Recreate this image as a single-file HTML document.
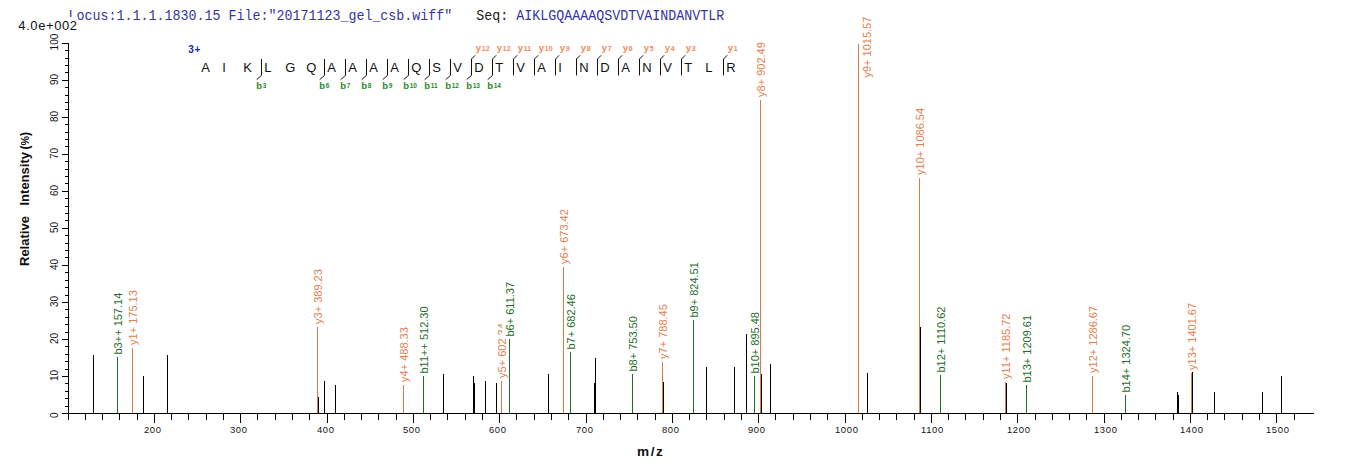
<!DOCTYPE html><html><head><meta charset="utf-8"><style>html,body{margin:0;padding:0;background:#fff;overflow:hidden}svg{display:block}text{font-family:"Liberation Sans",sans-serif}</style></head><body>
<svg width="1362" height="473" viewBox="0 0 1362 473">
<rect x="0" y="0" width="1362" height="473" fill="#fff"/>
<text transform="translate(0,19.6) scale(1,1.13) translate(0,-19.6)" x="68.5" y="19.6" style="font-family:Liberation Mono,monospace" font-size="13.33" fill="#3434A4" xml:space="preserve">Locus:1.1.1.1830.15 File:"20171123_gel_csb.wiff"   <tspan fill="#222">Seq:</tspan> AIKLGQAAAAQSVDTVAINDANVTLR</text>
<rect x="16" y="17" width="62" height="14" fill="#fff"/>
<text x="18.3" y="29.9" font-size="13" fill="#111" letter-spacing="0.6">4.0e+002</text>
<path d="M68.5 43 V414" stroke="#000" stroke-width="1" fill="none"/>
<path d="M62 413.5 H1314" stroke="#000" stroke-width="1" fill="none"/>
<path d="M62 413.50 H68.5 M65 406.50 H68.5 M65 398.50 H68.5 M65 391.50 H68.5 M65 383.50 H68.5 M62 376.50 H68.5 M65 369.50 H68.5 M65 361.50 H68.5 M65 354.50 H68.5 M65 346.50 H68.5 M62 339.50 H68.5 M65 332.50 H68.5 M65 324.50 H68.5 M65 317.50 H68.5 M65 309.50 H68.5 M62 302.50 H68.5 M65 295.50 H68.5 M65 287.50 H68.5 M65 280.50 H68.5 M65 272.50 H68.5 M62 265.50 H68.5 M65 257.50 H68.5 M65 250.50 H68.5 M65 243.50 H68.5 M65 235.50 H68.5 M62 228.50 H68.5 M65 220.50 H68.5 M65 213.50 H68.5 M65 206.50 H68.5 M65 198.50 H68.5 M62 191.50 H68.5 M65 183.50 H68.5 M65 176.50 H68.5 M65 169.50 H68.5 M65 161.50 H68.5 M62 154.50 H68.5 M65 146.50 H68.5 M65 139.50 H68.5 M65 132.50 H68.5 M65 124.50 H68.5 M62 117.50 H68.5 M65 109.50 H68.5 M65 102.50 H68.5 M65 95.50 H68.5 M65 87.50 H68.5 M62 80.50 H68.5 M65 72.50 H68.5 M65 65.50 H68.5 M65 58.50 H68.5 M65 50.50 H68.5 M62 43.50 H68.5" stroke="#000" stroke-width="1" fill="none"/>
<text transform="translate(57.8,418.10) rotate(-90)" font-size="10" fill="#111">0</text>
<text transform="translate(57.8,381.10) rotate(-90)" font-size="10" fill="#111">10</text>
<text transform="translate(57.8,344.10) rotate(-90)" font-size="10" fill="#111">20</text>
<text transform="translate(57.8,307.10) rotate(-90)" font-size="10" fill="#111">30</text>
<text transform="translate(57.8,270.10) rotate(-90)" font-size="10" fill="#111">40</text>
<text transform="translate(57.8,233.10) rotate(-90)" font-size="10" fill="#111">50</text>
<text transform="translate(57.8,196.10) rotate(-90)" font-size="10" fill="#111">60</text>
<text transform="translate(57.8,159.10) rotate(-90)" font-size="10" fill="#111">70</text>
<text transform="translate(57.8,122.10) rotate(-90)" font-size="10" fill="#111">80</text>
<text transform="translate(57.8,85.10) rotate(-90)" font-size="10" fill="#111">90</text>
<text transform="translate(57.8,50.40) rotate(-90)" font-size="10" fill="#111">100</text>
<path d="M68.50 413 V420 M85.50 413 V420 M102.50 413 V420 M119.50 413 V420 M137.50 413 V420 M154.50 413 V423 M171.50 413 V420 M188.50 413 V420 M206.50 413 V420 M223.50 413 V420 M240.50 413 V423 M257.50 413 V420 M275.50 413 V420 M292.50 413 V420 M309.50 413 V420 M327.50 413 V423 M344.50 413 V420 M361.50 413 V420 M378.50 413 V420 M396.50 413 V420 M413.50 413 V423 M430.50 413 V420 M447.50 413 V420 M465.50 413 V420 M482.50 413 V420 M499.50 413 V423 M516.50 413 V420 M534.50 413 V420 M551.50 413 V420 M568.50 413 V420 M586.50 413 V423 M603.50 413 V420 M620.50 413 V420 M637.50 413 V420 M655.50 413 V420 M672.50 413 V423 M689.50 413 V420 M706.50 413 V420 M724.50 413 V420 M741.50 413 V420 M758.50 413 V423 M775.50 413 V420 M793.50 413 V420 M810.50 413 V420 M827.50 413 V420 M845.50 413 V423 M862.50 413 V420 M879.50 413 V420 M896.50 413 V420 M914.50 413 V420 M931.50 413 V423 M948.50 413 V420 M965.50 413 V420 M983.50 413 V420 M1000.50 413 V420 M1017.50 413 V423 M1035.50 413 V420 M1052.50 413 V420 M1069.50 413 V420 M1086.50 413 V420 M1104.50 413 V423 M1121.50 413 V420 M1138.50 413 V420 M1155.50 413 V420 M1173.50 413 V420 M1190.50 413 V423 M1207.50 413 V420 M1224.50 413 V420 M1242.50 413 V420 M1259.50 413 V420 M1276.50 413 V423 M1294.50 413 V420" stroke="#000" stroke-width="1" fill="none"/>
<text x="143.90" y="432.7" font-size="9.4" letter-spacing="0.75" fill="#111">200</text>
<text x="229.90" y="432.7" font-size="9.4" letter-spacing="0.75" fill="#111">300</text>
<text x="316.90" y="432.7" font-size="9.4" letter-spacing="0.75" fill="#111">400</text>
<text x="402.90" y="432.7" font-size="9.4" letter-spacing="0.75" fill="#111">500</text>
<text x="488.90" y="432.7" font-size="9.4" letter-spacing="0.75" fill="#111">600</text>
<text x="575.90" y="432.7" font-size="9.4" letter-spacing="0.75" fill="#111">700</text>
<text x="661.90" y="432.7" font-size="9.4" letter-spacing="0.75" fill="#111">800</text>
<text x="747.90" y="432.7" font-size="9.4" letter-spacing="0.75" fill="#111">900</text>
<text x="834.90" y="432.7" font-size="9.4" letter-spacing="0.75" fill="#111">1000</text>
<text x="920.90" y="432.7" font-size="9.4" letter-spacing="0.75" fill="#111">1100</text>
<text x="1006.90" y="432.7" font-size="9.4" letter-spacing="0.75" fill="#111">1200</text>
<text x="1093.90" y="432.7" font-size="9.4" letter-spacing="0.75" fill="#111">1300</text>
<text x="1179.90" y="432.7" font-size="9.4" letter-spacing="0.75" fill="#111">1400</text>
<text x="1265.90" y="432.7" font-size="9.4" letter-spacing="0.75" fill="#111">1500</text>
<text transform="translate(29,266) rotate(-90)" font-size="13" font-weight="bold" fill="#111">Relative</text>
<text transform="translate(29,205.5) rotate(-90)" font-size="13" font-weight="bold" fill="#111">Intensity</text>
<text transform="translate(29,149.6) rotate(-90)" font-size="13" font-weight="bold" fill="#111" textLength="17.6" lengthAdjust="spacingAndGlyphs">(<tspan font-size="11.5">%</tspan>)</text>
<text x="637.1" y="455.7" font-size="13.6" font-weight="bold" fill="#111" letter-spacing="1.5">m/z</text>
<path d="M1125.50 395 V413" stroke="#1E6E28" stroke-width="1" fill="none"/>
<rect x="1118.20" y="324.90" width="13.8" height="69.60" fill="#fff"/>
<text transform="translate(1129.50,392.50) rotate(-90)" font-size="11" fill="#1E6E28">b14+ 1324.70</text>
<path d="M403.50 385 V413" stroke="#DC7A48" stroke-width="1" fill="none"/>
<rect x="396.20" y="325.40" width="13.8" height="58.50" fill="#fff"/>
<text transform="translate(407.50,381.90) rotate(-90)" font-size="11" fill="#E0804E">y4+ 488.33</text>
<path d="M1026.50 385 V413" stroke="#1E6E28" stroke-width="1" fill="none"/>
<rect x="1019.20" y="314.90" width="13.8" height="69.60" fill="#fff"/>
<text transform="translate(1030.50,382.50) rotate(-90)" font-size="11" fill="#1E6E28">b13+ 1209.61</text>
<path d="M1005.50 382 V413" stroke="#DC7A48" stroke-width="1" fill="none"/>
<rect x="998.20" y="311.30" width="13.8" height="69.60" fill="#fff"/>
<text transform="translate(1009.50,378.90) rotate(-90)" font-size="11" fill="#E0804E">y11+ 1185.72</text>
<path d="M501.50 381 V413" stroke="#DC7A48" stroke-width="1" fill="none"/>
<rect x="494.20" y="321.40" width="13.8" height="58.50" fill="#fff"/>
<text transform="translate(505.50,377.90) rotate(-90)" font-size="11" fill="#E0804E">y5+ 602.34</text>
<path d="M423.50 376 V413" stroke="#1E6E28" stroke-width="1" fill="none"/>
<rect x="416.20" y="305.90" width="13.8" height="69.60" fill="#fff"/>
<text transform="translate(427.50,373.50) rotate(-90)" font-size="11" fill="#1E6E28">b11++ 512.30</text>
<path d="M754.50 376 V413" stroke="#1E6E28" stroke-width="1" fill="none"/>
<rect x="747.20" y="311.45" width="13.8" height="64.05" fill="#fff"/>
<text transform="translate(758.50,373.50) rotate(-90)" font-size="11" fill="#1E6E28">b10+ 895.48</text>
<path d="M1092.50 376 V413" stroke="#DC7A48" stroke-width="1" fill="none"/>
<rect x="1085.20" y="305.30" width="13.8" height="69.60" fill="#fff"/>
<text transform="translate(1096.50,372.90) rotate(-90)" font-size="11" fill="#E0804E">y12+ 1286.67</text>
<path d="M940.50 375 V413" stroke="#1E6E28" stroke-width="1" fill="none"/>
<rect x="933.20" y="304.90" width="13.8" height="69.60" fill="#fff"/>
<text transform="translate(944.50,372.50) rotate(-90)" font-size="11" fill="#1E6E28">b12+ 1110.62</text>
<path d="M632.50 374 V413" stroke="#1E6E28" stroke-width="1" fill="none"/>
<rect x="625.20" y="315.00" width="13.8" height="58.50" fill="#fff"/>
<text transform="translate(636.50,371.50) rotate(-90)" font-size="11" fill="#1E6E28">b8+ 753.50</text>
<path d="M1191.50 373 V413" stroke="#DC7A48" stroke-width="1" fill="none"/>
<rect x="1184.20" y="302.30" width="13.8" height="69.60" fill="#fff"/>
<text transform="translate(1195.50,369.90) rotate(-90)" font-size="11" fill="#E0804E">y13+ 1401.67</text>
<path d="M662.50 362 V413" stroke="#DC7A48" stroke-width="1" fill="none"/>
<rect x="655.20" y="302.40" width="13.8" height="58.50" fill="#fff"/>
<text transform="translate(666.50,358.90) rotate(-90)" font-size="11" fill="#E0804E">y7+ 788.45</text>
<path d="M117.50 357 V413" stroke="#1E6E28" stroke-width="1" fill="none"/>
<rect x="110.20" y="292.45" width="13.8" height="64.05" fill="#fff"/>
<text transform="translate(121.50,354.50) rotate(-90)" font-size="11" fill="#1E6E28">b3++ 157.14</text>
<path d="M570.50 352 V413" stroke="#1E6E28" stroke-width="1" fill="none"/>
<rect x="563.20" y="293.00" width="13.8" height="58.50" fill="#fff"/>
<text transform="translate(574.50,349.50) rotate(-90)" font-size="11" fill="#1E6E28">b7+ 682.46</text>
<path d="M132.50 348 V413" stroke="#DC7A48" stroke-width="1" fill="none"/>
<rect x="125.20" y="288.40" width="13.8" height="58.50" fill="#fff"/>
<text transform="translate(136.50,344.90) rotate(-90)" font-size="11" fill="#E0804E">y1+ 175.13</text>
<path d="M509.50 339 V413" stroke="#1E6E28" stroke-width="1" fill="none"/>
<rect x="502.20" y="280.00" width="13.8" height="58.50" fill="#fff"/>
<text transform="translate(513.50,336.50) rotate(-90)" font-size="11" fill="#1E6E28">b6+ 611.37</text>
<path d="M317.50 327 V413" stroke="#DC7A48" stroke-width="1" fill="none"/>
<rect x="310.20" y="267.40" width="13.8" height="58.50" fill="#fff"/>
<text transform="translate(321.50,323.90) rotate(-90)" font-size="11" fill="#E0804E">y3+ 389.23</text>
<path d="M693.50 320 V413" stroke="#1E6E28" stroke-width="1" fill="none"/>
<rect x="686.20" y="261.00" width="13.8" height="58.50" fill="#fff"/>
<text transform="translate(697.50,317.50) rotate(-90)" font-size="11" fill="#1E6E28">b9+ 824.51</text>
<path d="M563.50 267 V413" stroke="#DC7A48" stroke-width="1" fill="none"/>
<rect x="556.20" y="207.40" width="13.8" height="58.50" fill="#fff"/>
<text transform="translate(567.50,263.90) rotate(-90)" font-size="11" fill="#E0804E">y6+ 673.42</text>
<path d="M919.50 178 V413" stroke="#DC7A48" stroke-width="1" fill="none"/>
<rect x="912.20" y="107.30" width="13.8" height="69.60" fill="#fff"/>
<text transform="translate(923.50,174.90) rotate(-90)" font-size="11" fill="#E0804E">y10+ 1086.54</text>
<path d="M760.50 100 V413" stroke="#DC7A48" stroke-width="1" fill="none"/>
<rect x="753.20" y="40.40" width="13.8" height="58.50" fill="#fff"/>
<text transform="translate(764.50,96.90) rotate(-90)" font-size="11" fill="#E0804E">y8+ 902.49</text>
<path d="M858.50 44 V413" stroke="#DC7A48" stroke-width="1" fill="none"/>
<rect x="859.70" y="15.50" width="13.8" height="64.05" fill="#fff"/>
<text transform="translate(871.00,77.55) rotate(-90)" font-size="11" fill="#E0804E">y9+ 1015.57</text>
<path d="M93.50 355 V413" stroke="#000" stroke-width="1" fill="none"/>
<path d="M143.50 376 V413" stroke="#000" stroke-width="1" fill="none"/>
<path d="M167.50 355 V413" stroke="#000" stroke-width="1" fill="none"/>
<path d="M318.50 397 V413" stroke="#000" stroke-width="1" fill="none"/>
<path d="M324.50 381 V413" stroke="#000" stroke-width="1" fill="none"/>
<path d="M335.50 385 V413" stroke="#000" stroke-width="1" fill="none"/>
<path d="M443.50 374 V413" stroke="#000" stroke-width="1" fill="none"/>
<path d="M473.50 376 V413" stroke="#000" stroke-width="1" fill="none"/>
<path d="M474.50 383 V413" stroke="#000" stroke-width="1" fill="none"/>
<path d="M485.50 381 V413" stroke="#000" stroke-width="1" fill="none"/>
<path d="M496.50 383 V413" stroke="#000" stroke-width="1" fill="none"/>
<path d="M548.50 374 V413" stroke="#000" stroke-width="1" fill="none"/>
<path d="M594.50 383 V413" stroke="#000" stroke-width="1" fill="none"/>
<path d="M595.50 358 V413" stroke="#000" stroke-width="1" fill="none"/>
<path d="M663.50 382 V413" stroke="#000" stroke-width="1" fill="none"/>
<path d="M706.50 367 V413" stroke="#000" stroke-width="1" fill="none"/>
<path d="M734.50 367 V413" stroke="#000" stroke-width="1" fill="none"/>
<path d="M746.50 334 V413" stroke="#000" stroke-width="1" fill="none"/>
<path d="M761.50 374 V413" stroke="#000" stroke-width="1" fill="none"/>
<path d="M770.50 364 V413" stroke="#000" stroke-width="1" fill="none"/>
<path d="M867.50 373 V413" stroke="#000" stroke-width="1" fill="none"/>
<path d="M920.50 327 V413" stroke="#000" stroke-width="1" fill="none"/>
<path d="M1006.50 383 V413" stroke="#000" stroke-width="1" fill="none"/>
<path d="M1177.50 392 V413" stroke="#000" stroke-width="1" fill="none"/>
<path d="M1178.50 395 V413" stroke="#000" stroke-width="1" fill="none"/>
<path d="M1192.50 372 V413" stroke="#000" stroke-width="1" fill="none"/>
<path d="M1214.50 392 V413" stroke="#000" stroke-width="1" fill="none"/>
<path d="M1262.50 392 V413" stroke="#000" stroke-width="1" fill="none"/>
<path d="M1281.50 376 V413" stroke="#000" stroke-width="1" fill="none"/>
<text x="188.3" y="52.9" font-size="10" font-weight="bold" fill="#1C1CB4" letter-spacing="0.6">3+</text>
<text x="201.20" y="71.8" font-size="13" fill="#111">A</text>
<text x="222.20" y="71.8" font-size="13" fill="#111">I</text>
<text x="243.20" y="71.8" font-size="13" fill="#111">K</text>
<text x="264.20" y="71.8" font-size="13" fill="#111">L</text>
<text x="285.20" y="71.8" font-size="13" fill="#111">G</text>
<text x="306.20" y="71.8" font-size="13" fill="#111">Q</text>
<text x="327.20" y="71.8" font-size="13" fill="#111">A</text>
<text x="348.20" y="71.8" font-size="13" fill="#111">A</text>
<text x="369.20" y="71.8" font-size="13" fill="#111">A</text>
<text x="390.20" y="71.8" font-size="13" fill="#111">A</text>
<text x="411.20" y="71.8" font-size="13" fill="#111">Q</text>
<text x="432.20" y="71.8" font-size="13" fill="#111">S</text>
<text x="453.20" y="71.8" font-size="13" fill="#111">V</text>
<text x="474.20" y="71.8" font-size="13" fill="#111">D</text>
<text x="495.20" y="71.8" font-size="13" fill="#111">T</text>
<text x="516.20" y="71.8" font-size="13" fill="#111">V</text>
<text x="537.20" y="71.8" font-size="13" fill="#111">A</text>
<text x="558.20" y="71.8" font-size="13" fill="#111">I</text>
<text x="579.20" y="71.8" font-size="13" fill="#111">N</text>
<text x="600.20" y="71.8" font-size="13" fill="#111">D</text>
<text x="621.20" y="71.8" font-size="13" fill="#111">A</text>
<text x="642.20" y="71.8" font-size="13" fill="#111">N</text>
<text x="663.20" y="71.8" font-size="13" fill="#111">V</text>
<text x="684.20" y="71.8" font-size="13" fill="#111">T</text>
<text x="705.20" y="71.8" font-size="13" fill="#111">L</text>
<text x="726.20" y="71.8" font-size="13" fill="#111">R</text>
<path d="M261.50 59 V75.4 L256.70 79.6 M324.50 59 V75.4 L319.70 79.6 M345.50 59 V75.4 L340.70 79.6 M366.50 59 V75.4 L361.70 79.6 M387.50 59 V75.4 L382.70 79.6 M408.50 59 V75.4 L403.70 79.6 M429.50 59 V75.4 L424.70 79.6 M450.50 59 V75.4 L445.70 79.6 M475.20 55.3 L471.50 59 V75.4 L466.70 79.6 M496.20 55.3 L492.50 59 V75.4 L487.70 79.6 M517.20 55.3 L513.50 59 V75.4 M538.20 55.3 L534.50 59 V75.4 M559.20 55.3 L555.50 59 V75.4 M580.20 55.3 L576.50 59 V75.4 M601.20 55.3 L597.50 59 V75.4 M622.20 55.3 L618.50 59 V75.4 M643.20 55.3 L639.50 59 V75.4 M664.20 55.3 L660.50 59 V75.4 M685.20 55.3 L681.50 59 V75.4 M727.20 55.3 L723.50 59 V75.4" stroke="#111" stroke-width="1" fill="none"/>
<text x="256.30" y="88.6" font-size="9.5" font-weight="bold" fill="#2A8A2A">b<tspan font-size="6.5" dx="0.6" dy="-1">3</tspan></text>
<text x="319.30" y="88.6" font-size="9.5" font-weight="bold" fill="#2A8A2A">b<tspan font-size="6.5" dx="0.6" dy="-1">6</tspan></text>
<text x="340.30" y="88.6" font-size="9.5" font-weight="bold" fill="#2A8A2A">b<tspan font-size="6.5" dx="0.6" dy="-1">7</tspan></text>
<text x="361.30" y="88.6" font-size="9.5" font-weight="bold" fill="#2A8A2A">b<tspan font-size="6.5" dx="0.6" dy="-1">8</tspan></text>
<text x="382.30" y="88.6" font-size="9.5" font-weight="bold" fill="#2A8A2A">b<tspan font-size="6.5" dx="0.6" dy="-1">9</tspan></text>
<text x="403.30" y="88.6" font-size="9.5" font-weight="bold" fill="#2A8A2A">b<tspan font-size="6.5" dx="0.6" dy="-1">10</tspan></text>
<text x="424.30" y="88.6" font-size="9.5" font-weight="bold" fill="#2A8A2A">b<tspan font-size="6.5" dx="0.6" dy="-1">11</tspan></text>
<text x="445.30" y="88.6" font-size="9.5" font-weight="bold" fill="#2A8A2A">b<tspan font-size="6.5" dx="0.6" dy="-1">12</tspan></text>
<text x="466.30" y="88.6" font-size="9.5" font-weight="bold" fill="#2A8A2A">b<tspan font-size="6.5" dx="0.6" dy="-1">13</tspan></text>
<text x="487.30" y="88.6" font-size="9.5" font-weight="bold" fill="#2A8A2A">b<tspan font-size="6.5" dx="0.6" dy="-1">14</tspan></text>
<text x="475.70" y="51.2" font-size="9.5" font-weight="bold" fill="#EE8A5A">y<tspan font-size="7" dx="0.8" dy="0">12</tspan></text>
<text x="496.70" y="51.2" font-size="9.5" font-weight="bold" fill="#EE8A5A">y<tspan font-size="7" dx="0.8" dy="0">12</tspan></text>
<text x="517.70" y="51.2" font-size="9.5" font-weight="bold" fill="#EE8A5A">y<tspan font-size="7" dx="0.8" dy="0">11</tspan></text>
<text x="538.70" y="51.2" font-size="9.5" font-weight="bold" fill="#EE8A5A">y<tspan font-size="7" dx="0.8" dy="0">10</tspan></text>
<text x="559.70" y="51.2" font-size="9.5" font-weight="bold" fill="#EE8A5A">y<tspan font-size="7" dx="0.8" dy="0">9</tspan></text>
<text x="580.70" y="51.2" font-size="9.5" font-weight="bold" fill="#EE8A5A">y<tspan font-size="7" dx="0.8" dy="0">8</tspan></text>
<text x="601.70" y="51.2" font-size="9.5" font-weight="bold" fill="#EE8A5A">y<tspan font-size="7" dx="0.8" dy="0">7</tspan></text>
<text x="622.70" y="51.2" font-size="9.5" font-weight="bold" fill="#EE8A5A">y<tspan font-size="7" dx="0.8" dy="0">6</tspan></text>
<text x="643.70" y="51.2" font-size="9.5" font-weight="bold" fill="#EE8A5A">y<tspan font-size="7" dx="0.8" dy="0">5</tspan></text>
<text x="664.70" y="51.2" font-size="9.5" font-weight="bold" fill="#EE8A5A">y<tspan font-size="7" dx="0.8" dy="0">4</tspan></text>
<text x="685.70" y="51.2" font-size="9.5" font-weight="bold" fill="#EE8A5A">y<tspan font-size="7" dx="0.8" dy="0">3</tspan></text>
<text x="727.70" y="51.2" font-size="9.5" font-weight="bold" fill="#EE8A5A">y<tspan font-size="7" dx="0.8" dy="0">1</tspan></text>
</svg></body></html>
